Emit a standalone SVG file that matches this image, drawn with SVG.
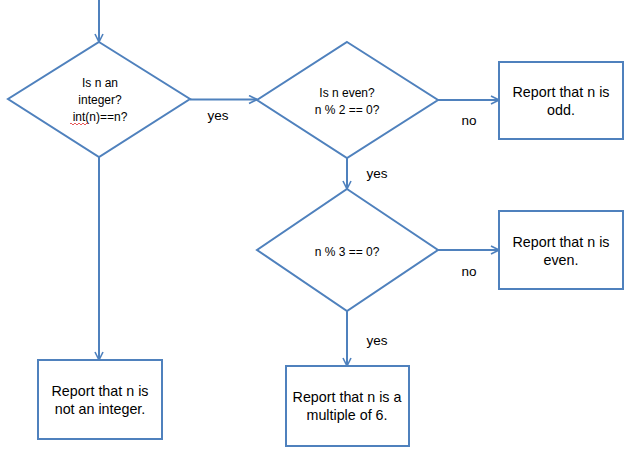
<svg xmlns="http://www.w3.org/2000/svg" width="627" height="455" viewBox="0 0 627 455">
<defs>
<marker id="arr" viewBox="0 0 10 10" refX="9" refY="5" markerWidth="10" markerHeight="10" markerUnits="userSpaceOnUse" orient="auto">
<path d="M1,1 L9,5 L1,9" fill="none" stroke="#4F81BD" stroke-width="1.6"/>
</marker>
</defs>
<style>
.shape{fill:#fff;stroke:#4F81BD;stroke-width:2}
.conn{fill:none;stroke:#4F81BD;stroke-width:2}
text{font-family:"Liberation Sans",Arial,sans-serif;fill:#000;text-anchor:middle}
.d{font-size:12px}
.b{font-size:14.3px}
.l{font-size:13.5px}
</style>
<rect width="627" height="455" fill="#fff"/>
<g id="connectors">
<line class="conn" x1="99" y1="0" x2="99" y2="42" marker-end="url(#arr)"/>
<line class="conn" x1="190" y1="99.5" x2="257" y2="99.5" marker-end="url(#arr)"/>
<line class="conn" x1="438" y1="100" x2="499" y2="100" marker-end="url(#arr)"/>
<line class="conn" x1="347" y1="158" x2="347" y2="189" marker-end="url(#arr)"/>
<line class="conn" x1="438" y1="250" x2="499" y2="250" marker-end="url(#arr)"/>
<line class="conn" x1="347" y1="311" x2="347" y2="366" marker-end="url(#arr)"/>
<line class="conn" x1="99" y1="157" x2="99" y2="360" marker-end="url(#arr)"/>
<text class="l" x="218" y="120">yes</text>
<text class="l" x="469" y="125">no</text>
<text class="l" x="377" y="178">yes</text>
<text class="l" x="469" y="276">no</text>
<text class="l" x="377" y="345">yes</text>
</g>
<g id="d1">
<polygon class="shape" points="99,42 190,99 99,157 8,99"/>
<text class="d" x="100" y="87">Is n an</text>
<text class="d" x="100" y="104">integer?</text>
<text class="d" x="100" y="121">int(n)==n?</text>
<path d="M70,124 q1,-2 2,0 t2,0 t2,0 t2,0 t2,0 t2,0 t2,0 t2,0 t2,0" fill="none" stroke="#e03030" stroke-width="0.8"/>
</g>
<g id="d2">
<polygon class="shape" points="347,42 438,100 347,158 257,100"/>
<text class="d" x="347" y="97">Is n even?</text>
<text class="d" x="347" y="114">n % 2 == 0?</text>
</g>
<g id="d3">
<polygon class="shape" points="347,189 438,250 347,311 257,250"/>
<text class="d" x="347" y="256">n % 3 == 0?</text>
</g>
<g id="odd">
<rect class="shape" x="499" y="62" width="124" height="77"/>
<text class="b" x="561" y="97">Report that n is</text>
<text class="b" x="561" y="115">odd.</text>
</g>
<g id="even">
<rect class="shape" x="499" y="211" width="124" height="78"/>
<text class="b" x="561" y="247">Report that n is</text>
<text class="b" x="561" y="265">even.</text>
</g>
<g id="mult6">
<rect class="shape" x="286" y="366" width="123" height="80"/>
<text class="b" x="347" y="402">Report that n is a</text>
<text class="b" x="347" y="420">multiple of 6.</text>
</g>
<g id="notint">
<rect class="shape" x="38" y="360" width="124" height="79"/>
<text class="b" x="100" y="396">Report that n is</text>
<text class="b" x="100" y="414">not an integer.</text>
</g>
</svg>
